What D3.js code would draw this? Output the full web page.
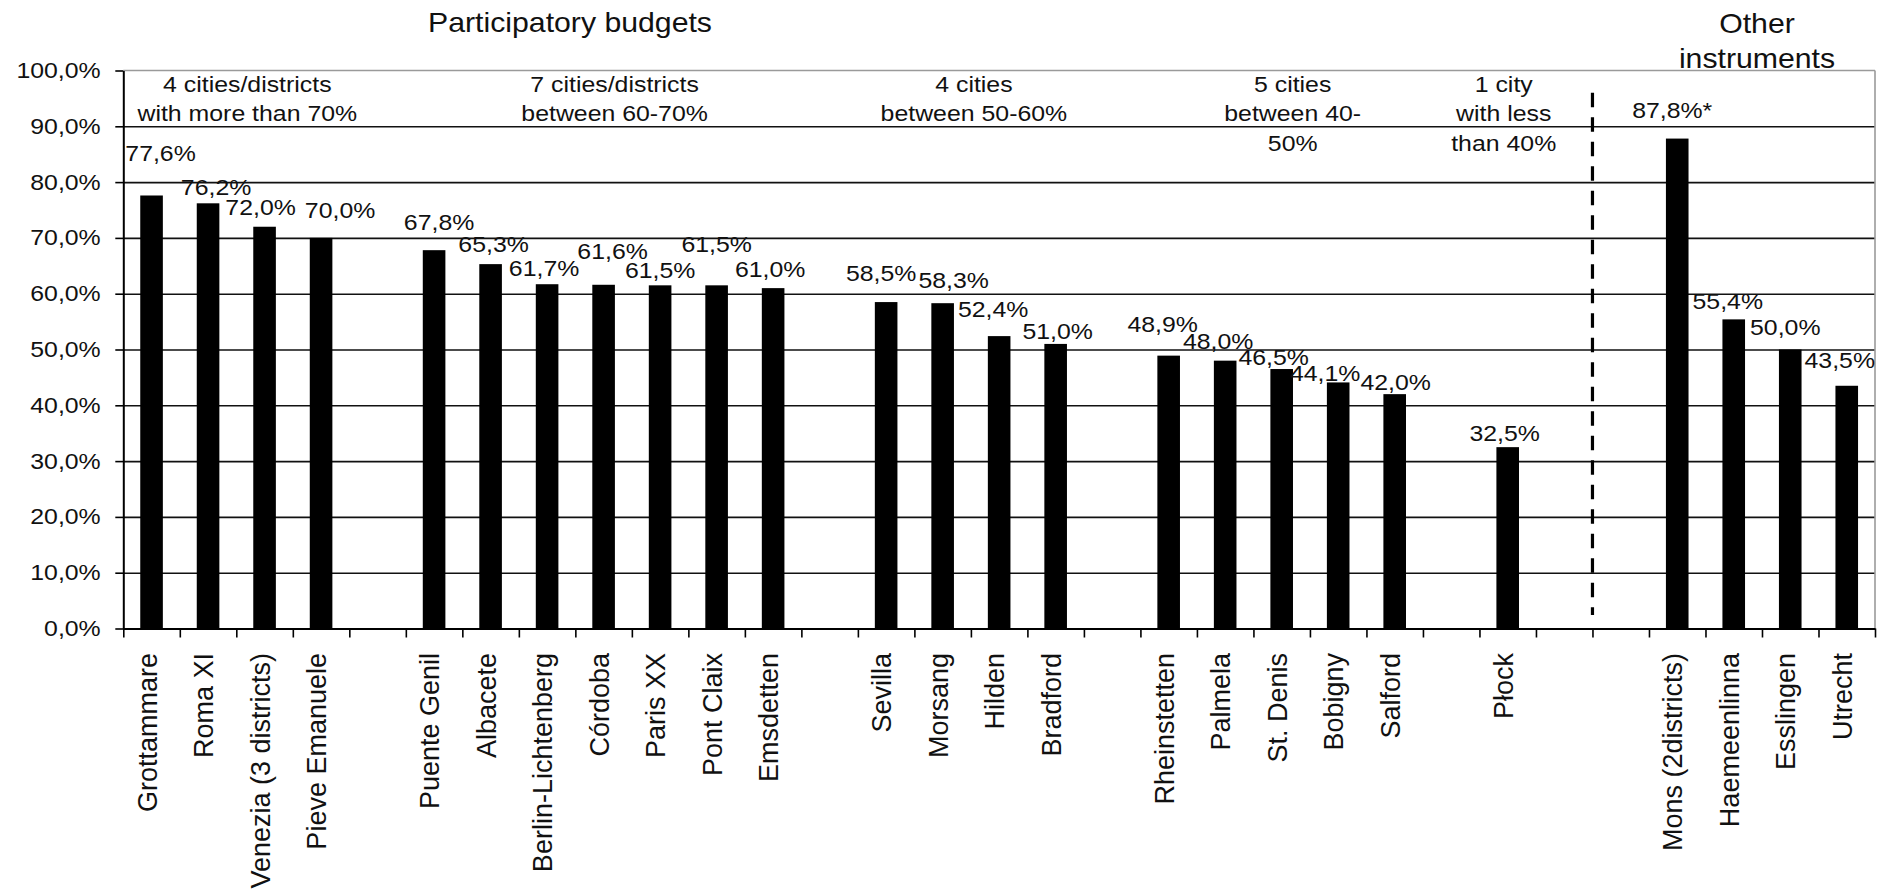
<!DOCTYPE html>
<html><head><meta charset="utf-8">
<script src="https://cdn.jsdelivr.net/npm/d3@7"></script>
<style>
body{margin:0;background:#fff}
svg{display:block}
text{font-family:"Liberation Sans",Arial,Helvetica,sans-serif;fill:#111}
</style>
</head><body>
<svg id="chart" width="1890" height="894"></svg>
<script>
// ---------- data ----------
const categories = ["Grottammare","Roma XI","Venezia (3 districts)","Pieve Emanuele","",
  "Puente Genil","Albacete","Berlin-Lichtenberg","Córdoba","Paris XX","Pont Claix","Emsdetten","",
  "Sevilla","Morsang","Hilden","Bradford","",
  "Rheinstetten","Palmela","St. Denis","Bobigny","Salford","",
  "Płock","","",
  "Mons (2districts)","Haemeenlinna","Esslingen","Utrecht"];
const values = [77.6,76.2,72.0,70.0,null,
  67.8,65.3,61.7,61.6,61.5,61.5,61.0,null,
  58.5,58.3,52.4,51.0,null,
  48.9,48.0,46.5,44.1,42.0,null,
  32.5,null,null,
  87.8,55.4,50.0,43.5];
const labelSuffix = ["","","","","", "","","","","","","","", "","","","","", "","","","","","", "","","", "*","","",""];
const yTicks = [0,10,20,30,40,50,60,70,80,90,100];
const groupNotes = [
  {from:0, to:3, lines:["4 cities/districts","with more than 70%"]},
  {from:5, to:11, lines:["7 cities/districts","between 60-70%"]},
  {from:13, to:16, lines:["4 cities","between 50-60%"]},
  {from:18, to:22, lines:["5 cities","between 40-","50%"]},
  {from:24, to:24, lines:["1 city","with less","than 40%"]}
];
const sectionTitles = [
  {lines:["Participatory budgets"]},
  {lines:["Other","instruments"]}
];

// ---------- layout (pixels, not data) ----------
const W = 1890, H = 894;
const L = 123.3, R = 1875, Y0 = 628.5, Y100 = 70.5;
const labelNudge = [[9,-42],[8,-16],[-4,-20],[19,-28],null,
  [5,-28],[3,-20],[-3,-16],[9,-34],[0,-15],[0,-41],[-3,-19],null,
  [-5,-29],[11,-23],[-6,-27],[2,-13],null,
  [-6,-32],[-7,-20],[-8,-12],[-13,-9],[1,-12],null,
  [-3,-14],null,null,
  [-5,-28],[-6,-18],[-5,-22],[-7,-26]];
const groupDx = [11, 11, 3, 11, -4];
const smallFont = 22, smallScale = 1.13;

const svg = d3.select("#chart");
const n = categories.length;
const x = d3.scaleBand().domain(d3.range(n)).range([L, R]).paddingInner(0.6).paddingOuter(0.3);
const xEdge = d3.scaleLinear().domain([0, n]).range([L, R]);
const y = d3.scaleLinear().domain([0, 100]).range([Y0, Y100]);
const fmt = v => v.toFixed(1).replace(".", ",") + "%";

// gridlines
const grid = svg.append("g").attr("transform", `translate(${L},0)`)
  .call(d3.axisLeft(y).tickValues(yTicks.filter(d => d > 0 && d < 100)).tickSize(-(R - L)).tickFormat(""));
grid.select(".domain").remove();
grid.selectAll("line").attr("stroke", "#111").attr("stroke-width", 1.6);

// plot border top / right (grey)
svg.append("line").attr("x1", L).attr("x2", R).attr("y1", y(100)).attr("y2", y(100))
  .attr("stroke", "#9a9a9a").attr("stroke-width", 1.6);
svg.append("line").attr("x1", R).attr("x2", R).attr("y1", y(100)).attr("y2", y(0))
  .attr("stroke", "#9a9a9a").attr("stroke-width", 1.6);

// bars
const idx = d3.range(n).filter(i => values[i] != null);
svg.append("g").selectAll("rect").data(idx).join("rect")
  .attr("x", i => x(i)).attr("width", x.bandwidth())
  .attr("y", i => y(values[i])).attr("height", i => y(0) - y(values[i]))
  .attr("fill", "#000");

// dashed separator
svg.append("line").attr("x1", xEdge(26)).attr("x2", xEdge(26))
  .attr("y1", y(96)).attr("y2", y(2.4))
  .attr("stroke", "#000").attr("stroke-width", 3.2).attr("stroke-dasharray", "14.5,10");

// y axis
const ya = svg.append("g").attr("transform", `translate(${L},0)`)
  .call(d3.axisLeft(y).tickValues(yTicks).tickSize(8).tickPadding(12).tickSizeOuter(0).tickFormat(fmt));
ya.select(".domain").attr("stroke", "#000").attr("stroke-width", 2);
ya.selectAll(".tick line").attr("stroke", "#000").attr("stroke-width", 1.6);
ya.selectAll(".tick text").attr("font-size", smallFont).attr("fill", "#111")
  .attr("font-family", '"Liberation Sans",Arial,sans-serif')
  .attr("transform", `scale(${smallScale},1)`);

// x axis (category boundaries)
const xa = svg.append("g").attr("transform", `translate(0,${y(0)})`)
  .call(d3.axisBottom(xEdge).tickValues(d3.range(n + 1)).tickSize(9).tickSizeOuter(0).tickFormat(""));
xa.select(".domain").attr("stroke", "#000").attr("stroke-width", 2);
xa.selectAll(".tick line").attr("stroke", "#000").attr("stroke-width", 1.6);

// category labels (rotated)
svg.append("g").selectAll("text").data(d3.range(n).filter(i => categories[i] !== "")).join("text")
  .attr("transform", i => `translate(${x(i) + x.bandwidth() / 2 + 5},${y(0) + 24.5}) rotate(-90)`)
  .attr("text-anchor", "end").attr("font-size", 27)
  .text(i => categories[i]);

// value labels
const vl = svg.append("g").selectAll("g").data(idx).join("g")
  .attr("transform", i => {
    const [dx, dy] = labelNudge[i];
    return `translate(${x(i) + x.bandwidth() / 2 + dx},${y(values[i]) + dy + smallFont * 0.36}) scale(${smallScale},1)`;
  });
vl.append("text").attr("text-anchor", "middle").attr("font-size", smallFont)
  .text(i => fmt(values[i]) + labelSuffix[i]);

// group notes
groupNotes.forEach((g, k) => {
  const cx = (x(g.from) + x(g.to) + x.bandwidth()) / 2 + groupDx[k];
  g.lines.forEach((line, j) => {
    svg.append("g").attr("transform", `translate(${cx},${84 + j * 29.5 + smallFont * 0.36}) scale(${smallScale},1)`)
      .append("text").attr("text-anchor", "middle").attr("font-size", smallFont).text(line);
  });
});

// section titles
const titlePos = [{cx: 570, base: [31.7]}, {cx: 1757, base: [33.3, 68.3]}];
sectionTitles.forEach((t, k) => {
  t.lines.forEach((line, j) => {
    svg.append("g").attr("transform", `translate(${titlePos[k].cx},${titlePos[k].base[j]}) scale(1.08,1)`)
      .append("text").attr("text-anchor", "middle").attr("font-size", 28).text(line);
  });
});
</script>
</body></html>
